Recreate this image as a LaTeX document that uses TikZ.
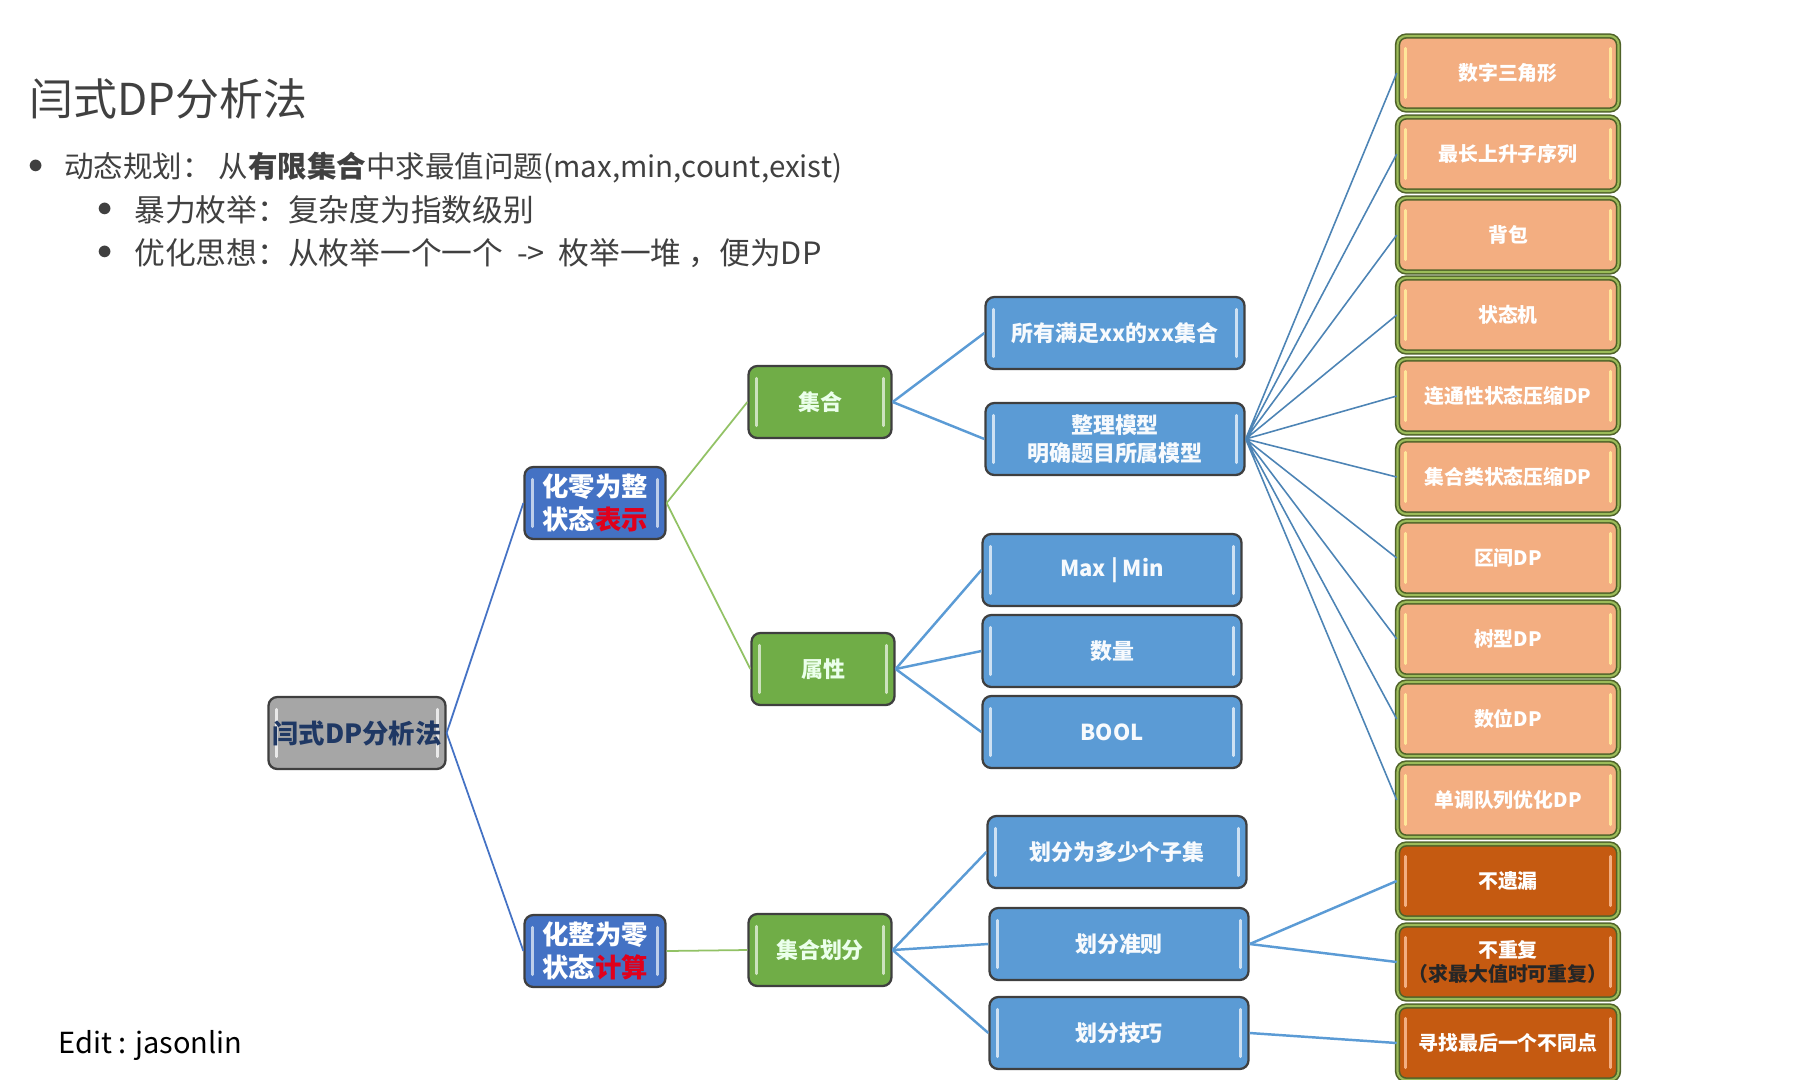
\documentclass[tikz,border=0pt]{standalone}
\usepackage{fontspec}
\setmainfont{Noto Sans CJK SC}
\definecolor{royalBlue}{HTML}{4472C4}
\definecolor{skyBlue}{HTML}{5B9BD5}
\definecolor{leafGreen}{HTML}{70AD47}
\definecolor{grassGreen}{HTML}{92C265}
\definecolor{rootGray}{HTML}{A6A6A6}
\definecolor{rootNavy}{HTML}{1F3864}
\definecolor{boxEdge}{HTML}{3F3F3F}
\definecolor{oliveEdge}{HTML}{4F6228}
\definecolor{lightOlive}{HTML}{9BBB59}
\definecolor{paleOrange}{HTML}{F3AE81}
\definecolor{burntOrange}{HTML}{C55A11}
\definecolor{sandYellow}{HTML}{FFE699}
\definecolor{hotRed}{HTML}{E0001B}
\definecolor{slideText}{HTML}{404040}

\begin{document}
\begin{tikzpicture}[x=0.2mm, y=-0.2mm,
	gel/.style={path picture={
		\draw[#1, line width=1.6pt, line cap=round] ([shift={(4.5pt,-7pt)}]path picture bounding box.north west) -- ([shift={(4.5pt,7pt)}]path picture bounding box.south west);
		\draw[#1, line width=1.6pt, line cap=round] ([shift={(-4.5pt,-7pt)}]path picture bounding box.north east) -- ([shift={(-4.5pt,7pt)}]path picture bounding box.south east);}},
	boxBase/.style={rounded corners=5pt, line width=1.3pt, inner sep=0pt, align=center, minimum height=1.44cm, text=white, font=\bfseries\fontsize{12.5}{16}\selectfont},
	rootBox/.style={boxBase, draw=boxEdge, fill=rootGray, gel=white!75!rootGray, minimum width=3.54cm, text=rootNavy, font=\bfseries\fontsize{15}{18}\selectfont},
	halfBox/.style={boxBase, draw=boxEdge, fill=royalBlue, gel=royalBlue!35!white, minimum width=2.82cm, font=\bfseries\fontsize{15}{19}\selectfont},
	kindBox/.style={boxBase, draw=boxEdge, fill=leafGreen, gel=leafGreen!35!white, minimum width=2.86cm, text=green!8!white},
	leafBox/.style={boxBase, draw=boxEdge, fill=skyBlue, gel=skyBlue!30!white, minimum width=5.18cm, text=white!95!skyBlue},
	modelBox/.style={boxBase, draw=oliveEdge, double=lightOlive, double distance=1.2pt, line width=0.9pt, fill=paleOrange, gel=sandYellow, minimum width=4.42cm, minimum height=1.48cm, font=\bfseries\fontsize{11.3}{14}\selectfont},
	critBox/.style={modelBox, fill=burntOrange, gel=paleOrange},
	rootLine/.style={draw=royalBlue, line width=1pt},
	halfLine/.style={draw=grassGreen, line width=1pt},
	kindLine/.style={draw=skyBlue, line width=1.4pt},
	modelLine/.style={draw=skyBlue!85!black, line width=0.9pt},
	slideLine/.style={anchor=west, inner sep=0pt, text=slideText, font=\fontsize{17.5}{20}\selectfont},
	slideDot/.style={inner sep=0pt, text=slideText, font=\fontsize{17}{20}\selectfont}]
\useasboundingbox (0,0) rectangle (1811,1079);
	\node[slideLine, font=\fontsize{25}{28}\selectfont] (title) at (29,99) {闫式DP分析法};
	\node[slideDot] (dotA) at (36,167) {$\bullet$};
	\node[slideLine, font=\fontsize{16.8}{20}\selectfont] (lineA) at (64,168) {动态规划：\ 从\textbf{有限集合}中求最值问题(max,min,count,exist)};
	\node[slideDot] (dotB) at (105,210) {$\bullet$};
	\node[slideLine] (lineB) at (134,210) {暴力枚举：复杂度为指数级别};
	\node[slideDot] (dotC) at (105,253) {$\bullet$};
	\node[slideLine] (lineC) at (134,253) {优化思想：从枚举一个一个\ \ -> \ 枚举一堆 ，便为DP};
	\node[slideLine, text=black, font=\fontsize{16.5}{20}\selectfont] (editor) at (58,1045) {Edit : jasonlin};

	\node[rootBox] (root) at (357,733) {闫式DP分析法};
	\node[halfBox] (rep) at (595,503) {化零为整\\状态\textcolor{hotRed}{表示}};
	\node[halfBox] (calc) at (595,951) {化整为零\\状态\textcolor{hotRed}{计算}};
	\node[kindBox] (set) at (820,402) {集合};
	\node[kindBox] (attr) at (823,669) {属性};
	\node[kindBox] (part) at (820,950) {集合划分};

	\node[leafBox] (all) at (1115,333) {所有满足xx的xx集合};
	\node[leafBox] (model) at (1115,439) {整理模型\\明确题目所属模型};
	\node[leafBox] (maxmin) at (1112,570) {Max | Min};
	\node[leafBox] (count) at (1112,651) {数量};
	\node[leafBox] (bool) at (1112,732) {BOOL};
	\node[leafBox] (howmany) at (1117,852) {划分为多少个子集};
	\node[leafBox] (rule) at (1119,944) {划分准则};
	\node[leafBox] (trick) at (1119,1033) {划分技巧};

	\node[modelBox] (tri) at (1508,73) {数字三角形};
	\node[modelBox] (lis) at (1508,154) {最长上升子序列};
	\node[modelBox] (bag) at (1508,235) {背包};
	\node[modelBox] (fsm) at (1508,315) {状态机};
	\node[modelBox] (conn) at (1508,396) {连通性状态压缩DP};
	\node[modelBox] (subset) at (1508,477) {集合类状态压缩DP};
	\node[modelBox] (interval) at (1508,558) {区间DP};
	\node[modelBox] (tree) at (1508,639) {树型DP};
	\node[modelBox] (digit) at (1508,719) {数位DP};
	\node[modelBox] (mono) at (1508,800) {单调队列优化DP};
	\node[critBox] (nomiss) at (1508,881) {不遗漏};
	\node[critBox] (nodup) at (1508,962) {不重复\\\textcolor{black!85}{（求最大值时可重复）}};
	\node[critBox] (last) at (1508,1043) {寻找最后一个不同点};

	\draw[rootLine] (root.east) -- (rep.west);
	\draw[rootLine] (root.east) -- (calc.west);
	\draw[halfLine] (rep.east) -- (set.west);
	\draw[halfLine] (rep.east) -- (attr.west);
	\draw[halfLine] (calc.east) -- (part.west);
	\draw[kindLine] (set.east) -- (all.west);
	\draw[kindLine] (set.east) -- (model.west);
	\draw[kindLine] (attr.east) -- (maxmin.west);
	\draw[kindLine] (attr.east) -- (count.west);
	\draw[kindLine] (attr.east) -- (bool.west);
	\draw[kindLine] (part.east) -- (howmany.west);
	\draw[kindLine] (part.east) -- (rule.west);
	\draw[kindLine] (part.east) -- (trick.west);
	\draw[modelLine] (model.east) -- (tri.west) (model.east) -- (lis.west)
		(model.east) -- (bag.west) (model.east) -- (fsm.west)
		(model.east) -- (conn.west) (model.east) -- (subset.west)
		(model.east) -- (interval.west) (model.east) -- (tree.west)
		(model.east) -- (digit.west) (model.east) -- (mono.west);
	\draw[kindLine] (rule.east) -- (nomiss.west);
	\draw[kindLine] (rule.east) -- (nodup.west);
	\draw[kindLine] (trick.east) -- (last.west);
\end{tikzpicture}
\end{document}
